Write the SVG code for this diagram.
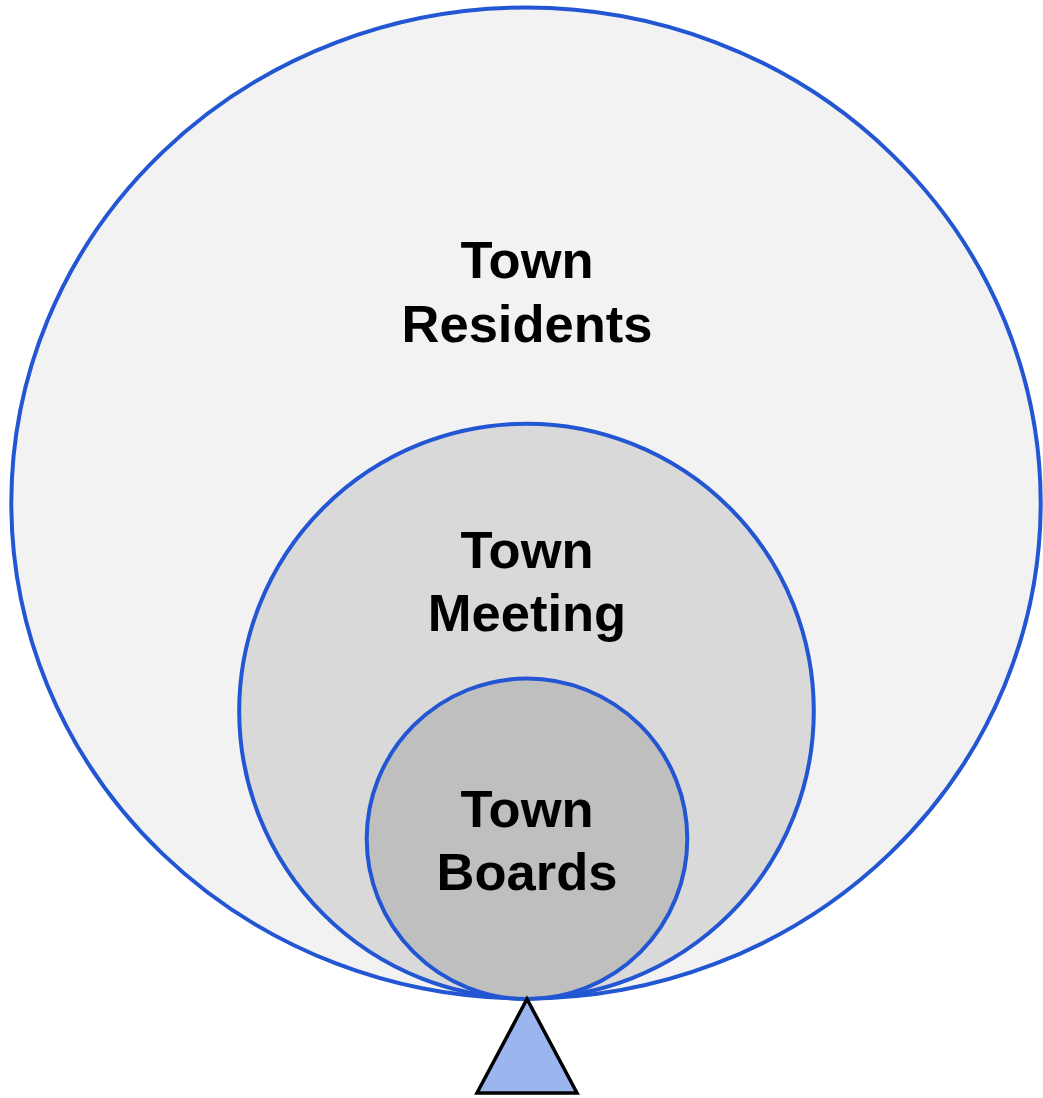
<svg xmlns="http://www.w3.org/2000/svg" width="1043" height="1098" viewBox="0 0 1043 1098">
<style>
.ring{stroke:#2356d2;stroke-width:4}
.lbl{font-family:"Liberation Sans",Arial,sans-serif;font-weight:bold;font-size:52.5px;fill:#000;text-anchor:middle}
</style>
<rect width="1043" height="1098" fill="#ffffff"/>
<g id="residents">
<ellipse class="ring" cx="526" cy="503" rx="514.7" ry="495.5" fill="#f2f2f2"/>
<text class="lbl" x="527" y="278">Town</text>
<text class="lbl" x="527" y="342">Residents</text>
</g>
<g id="meeting">
<circle class="ring" cx="526.5" cy="711" r="287.3" fill="#d9d9d9"/>
<text class="lbl" x="527" y="568">Town</text>
<text class="lbl" x="527" y="631">Meeting</text>
</g>
<g id="boards">
<circle class="ring" cx="527" cy="838.8" r="160.3" fill="#bfbfbf"/>
<text class="lbl" x="527" y="827">Town</text>
<text class="lbl" x="527" y="890">Boards</text>
</g>
<g id="fulcrum">
<polygon points="527,999 577,1093 477,1093" fill="#9bb5ee" stroke="#000" stroke-width="3.5" stroke-linejoin="miter"/>
</g>
<g id="connectors"></g>
</svg>
